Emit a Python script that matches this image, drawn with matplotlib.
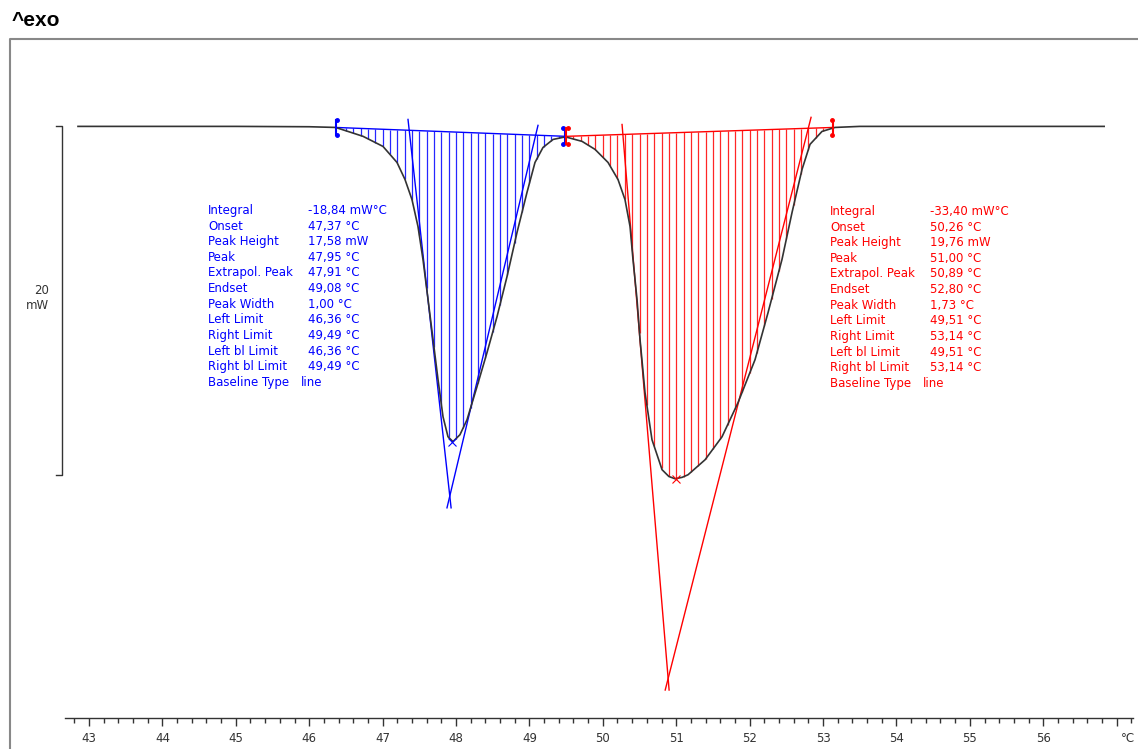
import numpy as np
import matplotlib
matplotlib.use('Agg')
import matplotlib.pyplot as plt
from matplotlib.lines import Line2D

# DSC curve (temperature in degC, heat flow in mW relative to baseline)
temp = [42.85, 44.0, 45.0, 46.0, 46.36, 46.733, 47.005, 47.196, 47.305, 47.400,
        47.482, 47.550, 47.619, 47.687, 47.755, 47.823, 47.891, 47.959, 48.054,
        48.150, 48.286, 48.422, 48.559, 48.695, 48.831, 48.967, 49.076, 49.185,
        49.322, 49.49, 49.717, 49.894, 50.071, 50.207, 50.302, 50.371, 50.411,
        50.466, 50.507, 50.575, 50.670, 50.807, 50.90, 50.984, 51.08, 51.161,
        51.393, 51.624, 51.842, 52.074, 52.251, 52.441, 52.578, 52.714, 52.823,
        52.986, 53.163, 53.5, 54.5, 55.5, 56.83]
heat = [0.0, 0.0, 0.0, -0.02, -0.06, -0.57, -1.15, -2.07, -3.05, -4.20,
        -5.75, -7.64, -9.94, -12.24, -14.54, -16.67, -17.82, -18.10, -17.70,
        -16.84, -14.94, -12.99, -10.92, -8.62, -6.09, -3.79, -2.07, -1.21,
        -0.75, -0.60, -0.86, -1.32, -2.07, -3.05, -4.20, -5.75, -7.64,
        -9.94, -12.24, -15.29, -17.99, -19.71, -20.10, -20.23, -20.15, -20.00,
        -19.14, -17.82, -15.86, -13.39, -10.69, -7.64, -4.94, -2.47, -1.03,
        -0.29, -0.06, 0.0, 0.0, 0.0, 0.0]

# baselines (left limit, right limit) and tangents (top point, bottom point)
blue_base = [(46.36, -0.06), (49.49, -0.57)]
red_base = [(49.51, -0.57), (53.14, -0.06)]
blue_tan_left = [(47.346, 0.40), (47.933, -21.9)]
blue_tan_right = [(49.117, 0.06), (47.877, -21.9)]
red_tan_left = [(50.262, 0.11), (50.903, -32.36)]
red_tan_right = [(52.837, 0.52), (50.850, -32.36)]
blue_peak = (47.95, -18.10)
red_peak = (51.00, -20.23)

labels = ['Integral', 'Onset', 'Peak Height', 'Peak', 'Extrapol. Peak', 'Endset',
          'Peak Width', 'Left Limit', 'Right Limit', 'Left bl Limit', 'Right bl Limit',
          'Baseline Type']
blue_vals = ['-18,84 mW°C', '47,37 °C', '17,58 mW', '47,95 °C', '47,91 °C', '49,08 °C',
             '1,00 °C', '46,36 °C', '49,49 °C', '46,36 °C', '49,49 °C', 'line']
red_vals = ['-33,40 mW°C', '50,26 °C', '19,76 mW', '51,00 °C', '50,89 °C', '52,80 °C',
            '1,73 °C', '49,51 °C', '53,14 °C', '49,51 °C', '53,14 °C', 'line']

W, H = 1138, 749
fig = plt.figure(figsize=(W / 100, H / 100), dpi=100)
ax = fig.add_axes([65 / W, (H - 718) / H, (1133 - 65) / W, (718 - 40) / H])
ax.set_xlim(42.673, 57.223)
ax.set_ylim(-33.966, 4.96)
for s in ['top', 'right', 'left']:
    ax.spines[s].set_visible(False)
ax.spines['bottom'].set_linewidth(1.0)
ax.spines['bottom'].set_color('#333333')
ax.set_yticks([])
ax.set_xticks(np.arange(43, 58, 1))
ax.set_xticklabels([str(t) for t in range(43, 57)] + [''])
ax.set_xticks(np.arange(42.8, 57.21, 0.2), minor=True)
ax.tick_params(axis='x', which='major', direction='out', length=6, width=1, pad=4,
               labelsize=8.5, colors='#333333', labelcolor='#333333')
ax.tick_params(axis='x', which='minor', direction='out', length=3.5, width=1, colors='#333333')
ax.annotate('°C', xy=(57.15, 0), xycoords=('data', 'axes fraction'),
            xytext=(0, -10), textcoords='offset points', fontsize=8.5, color='#333333',
            ha='center', va='top', annotation_clip=False)

temp_a = np.array(temp)
heat_a = np.array(heat)


def hatch(base, color, start, stop):
    (x0, y0), (x1, y1) = base
    xs = np.arange(start, stop, 0.1)
    yb = y0 + (y1 - y0) * (xs - x0) / (x1 - x0)
    yc = np.interp(xs, temp_a, heat_a)
    ax.vlines(xs, yc, yb, color=color, lw=0.9, alpha=0.85, zorder=2)
    ax.plot([x0, x1], [y0, y1], color=color, lw=1.0, zorder=3)


hatch(blue_base, '#0000ff', 46.4, 49.45)
hatch(red_base, '#ff0000', 49.6, 53.1)

for tan, c in [(blue_tan_left, '#0000ff'), (blue_tan_right, '#0000ff'),
               (red_tan_left, '#ff0000'), (red_tan_right, '#ff0000')]:
    ax.plot([tan[0][0], tan[1][0]], [tan[0][1], tan[1][1]], color=c, lw=1.0, zorder=3,
            clip_on=False)

ax.plot(temp, heat, color='#333333', lw=1.2, zorder=4)

ax.plot(*blue_peak, marker='x', color='#0000ff', ms=6, mew=0.8, zorder=5)
ax.plot(*red_peak, marker='x', color='#ff0000', ms=6, mew=0.8, zorder=5)


def limit_marker(x, y, color, dx):
    ax.plot([x, x], [y - 0.45, y + 0.45], color=color, lw=1.5, zorder=6)
    ax.plot([x + dx, x + dx], [y - 0.45, y + 0.45], color=color, lw=0, marker='o',
            ms=2.5, zorder=6)


limit_marker(blue_base[0][0], blue_base[0][1], '#0000ff', 0.02)
limit_marker(blue_base[1][0] - 0.01, blue_base[1][1], '#0000ff', -0.02)
limit_marker(red_base[0][0] - 0.01, red_base[0][1], '#ff0000', 0.03)
limit_marker(red_base[1][0], red_base[1][1], '#ff0000', -0.02)

# scale bar 20 mW
sx = 42.632
ax.plot([sx - 0.08, sx, sx, sx - 0.08], [0, 0, -20, -20], color='#333333', lw=1.0,
        clip_on=False)
ax.text(42.45, -9.4, '20', ha='right', va='center', fontsize=8.5, color='#333333')
ax.text(42.45, -10.3, 'mW', ha='right', va='center', fontsize=8.5, color='#333333')

# result tables
dy = 15.6 / 17.4
for i, (lab, v) in enumerate(zip(labels, blue_vals)):
    y = -4.83 - i * dy
    ax.text(44.621, y, lab, color='#0000ff', fontsize=8.5, va='center', ha='left')
    ax.text(45.984 if i < 11 else 45.89, y, v, color='#0000ff', fontsize=8.5,
            va='center', ha='left')
for i, (lab, v) in enumerate(zip(labels, red_vals)):
    y = -4.885 - i * dy
    ax.text(53.095, y, lab, color='#ff0000', fontsize=8.5, va='center', ha='left')
    ax.text(54.458 if i < 11 else 54.36, y, v, color='#ff0000', fontsize=8.5,
            va='center', ha='left')

# outer frame and title
fy = 1 - 39 / H
fig.add_artist(Line2D([10 / W, 10 / W, 1], [0, fy, fy], color='#888888', lw=1.5))
fig.text(12 / W, 1 - 21 / H, '^exo', fontsize=15, fontweight='bold', va='center', ha='left',
         family='Liberation Sans')

fig.savefig('out.png', dpi=100)
